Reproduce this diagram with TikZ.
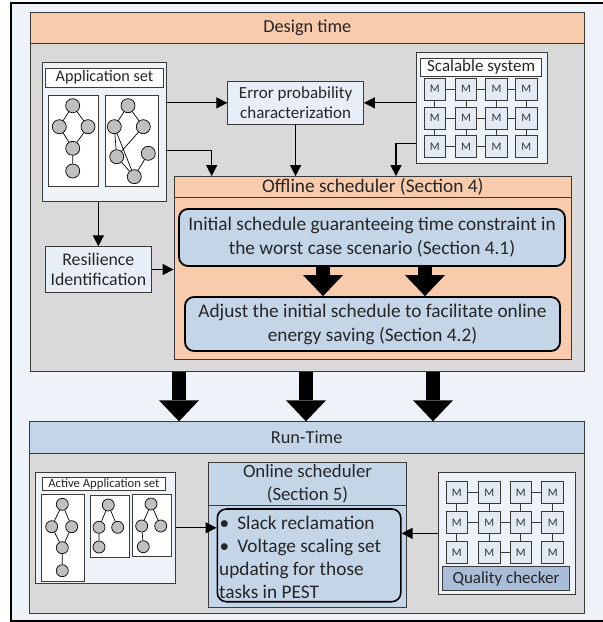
\documentclass[tikz,border=0pt]{standalone}
\usepackage{fontspec}
\setmainfont{Carlito}
\usetikzlibrary{arrows.meta,fit,calc}
\definecolor{pagebg}{HTML}{EEF3F9}
\definecolor{panelgrey}{HTML}{D9D9D9}
\definecolor{peach}{HTML}{F8CBAD}
\definecolor{steel}{HTML}{C5D5E8}
\definecolor{paleblue}{HTML}{E8EEF7}
\definecolor{cellblue}{HTML}{E4EAF4}
\definecolor{checker}{HTML}{A9BDD8}
\definecolor{vtxgrey}{HTML}{BFBFBF}
\definecolor{edgec}{HTML}{3A3A3A}
\begin{document}
\begin{tikzpicture}[x=1pt,y=-1pt,
  box/.style={draw=edgec, line width=0.8pt, inner sep=0pt},
  panel/.style={box, fill=panelgrey},
  txt/.style={inner sep=0pt, align=center, text=black!85},
  fhead/.style={font=\fontsize{18.3}{23.5}\selectfont},
  fbig/.style={font=\fontsize{19.3}{24}\selectfont},
  fmid/.style={font=\fontsize{17}{20.5}\selectfont},
  fsmall/.style={font=\fontsize{12.7}{14}\selectfont},
  task/.style={draw=black, line width=1.8pt, rounded corners=9pt, fill=steel, inner sep=0pt},
  vtx/.style={circle, draw=black, line width=0.7pt, fill=vtxgrey, inner sep=0pt, minimum size=14pt},
  svtx/.style={vtx, minimum size=12pt},
  gedge/.style={draw=black, line width=0.7pt},
  mcell/.style={box, fill=cellblue, minimum width=21.7pt, minimum height=22pt, font=\fontsize{11.5}{13}\selectfont, text=black!80},
  link/.style={draw=edgec, line width=0.8pt},
  conn/.style={draw=black, line width=1.2pt, -{Triangle[length=11pt,width=11pt]}},
  bigarrow/.style={draw=black, line width=14pt, -{Triangle[length=21pt,width=40pt,line width=0pt]}},
]
\useasboundingbox (0,0) rectangle (603,622);

% outer frame
\draw[draw=black, line width=2pt, fill=pagebg] (11,3) rectangle (606,620.5);

% ---------------- design time ----------------
\node[panel, fit={(30.7,12.7) (584,371.7)}] (design) {};
\node[box, fill=peach, fit={(30.7,12.7) (584,43.7)}] (dhead) {};
\node[txt, fhead] (dhead-t) at (dhead) {Design time};

% application set
\node[box, fill=pagebg, fit={(42.7,62.3) (166.7,201.7)}] (appset) {};
\node[box, fill=white, fit={(45.7,68.3) (163.3,87)}] (apptitle) {};
\node[txt, font=\fontsize{16.2}{19}\selectfont] (apptitle-t) at (apptitle) {Application set};
\node[box, fill=white, fit={(48.3,95.7) (98.3,186.5)}] (ga) {};
\node[box, fill=white, fit={(105.7,95.7) (158.3,186.5)}] (gb) {};
\node[vtx] (a1) at (72.7,105.7) {};
\node[vtx] (a2) at (59.3,126.7) {};
\node[vtx] (a3) at (88,126.7) {};
\node[vtx] (a4) at (72.7,148.3) {};
\node[vtx] (a5) at (72.7,171) {};
\draw[gedge] (a1)--(a2) (a1)--(a3) (a2)--(a4) (a3)--(a4) (a4)--(a5);
\node[vtx] (b1) at (128,105.7) {};
\node[vtx] (b2) at (114.3,126.7) {};
\node[vtx] (b3) at (143.3,126.7) {};
\node[vtx] (b4) at (116.7,156.7) {};
\node[vtx] (b5) at (148.3,153.3) {};
\node[vtx] (b6) at (134.3,176.7) {};
\draw[gedge] (b1)--(b2) (b1)--(b3) (b2)--(b4) (b2)--(b6) (b3)--(b4) (b4)--(b6) (b5)--(b6);

% error probability
\node[box, fill=paleblue, fit={(227.7,81.7) (363.5,124)}] (err) {};
\node[txt, fmid] (err-t) at (err) {Error probability\\characterization};

% scalable system
\node[box, fill=pagebg, fit={(416.7,52.3) (547.7,163.3)}] (scal) {};
\node[box, fill=white, fit={(420.7,58.3) (541.7,76)}] (scaltitle) {};
\node[txt, fmid] (scaltitle-t) at (scaltitle) {Scalable system};
\foreach \c/\x in {1/434.8,2/466,3/496.5,4/526.3}{
  \foreach \r/\y in {1/89.2,2/118,3/146.7}{
    \node[mcell] (d-\r-\c) at (\x,\y) {M};
  }
}
\foreach \r in {1,2}{\draw[link] (d-\r-1)--(d-\r-2) (d-\r-2)--(d-\r-3) (d-\r-3)--(d-\r-4);}
\draw[link] (d-3-1)--(d-3-2) (d-3-2)--(d-3-3);
\foreach \c in {1,...,4}{\draw[link] (d-1-\c)--(d-2-\c) (d-2-\c)--(d-3-\c);}

% resilience
\node[box, fill=paleblue, fit={(45,246.7) (151.7,292.3)}] (res) {};
\node[txt, font=\fontsize{17.8}{20.5}\selectfont] (res-t) at (res) {Resilience\\Identification};

% offline scheduler
\node[box, fill=peach, fit={(174,176.5) (571.7,359.3)}] (offline) {};
\node[box, fill=peach, fit={(174,176.5) (571.7,197.3)}] (offhead) {};
\node[txt, fbig] (offhead-t) at (offhead) {Offline scheduler (Section 4)};
\node[task, fit={(179,209) (565,266)}] (init) {};
\node[txt, fbig] (init-t) at (init) {Initial schedule guaranteeing time constraint in\\the worst case scenario (Section 4.1)};
\node[task, fit={(185,297) (560,351)}] (adjust) {};
\node[txt, fbig] (adjust-t) at (adjust) {Adjust the initial schedule to facilitate online\\energy saving (Section 4.2)};

% design-time connectors
\coordinate (k1) at (211.7,150.7);
\coordinate (k2) at (396,143.3);
\draw[conn] (appset.east |- err.west) -- (err.west);
\draw[conn] (scal.west |- err.east) -- (err.east);
\draw[conn] (appset.east |- k1) -- (k1) -- (k1 |- offline.north);
\draw[conn] (err.south) -- (err.south |- offline.north);
\draw[conn] (scal.west |- k2) -- (k2) -- (k2 |- offline.north);
\draw[conn] (appset.south -| res.north) -- (res.north);
\draw[conn] (res.east) -- (res.east -| offline.west);

\coordinate (p1) at (323,0);
\coordinate (p2) at (425,0);
\draw[bigarrow] (p1 |- init.south) -- (p1 |- adjust.north);
\draw[bigarrow] (p2 |- init.south) -- (p2 |- adjust.north);

% ---------------- run time ----------------
\node[panel, fit={(29.3,421.7) (584,613.3)}] (run) {};
\node[box, fill=steel, fit={(29.3,421.7) (584,453.3)}] (rhead) {};
\node[txt, fhead] (rhead-t) at (rhead) {Run-Time};

\coordinate (q1) at (179,0);
\coordinate (q2) at (306,0);
\coordinate (q3) at (433,0);
\foreach \q in {q1,q2,q3}{\draw[bigarrow] (\q |- design.south) -- (\q |- rhead.north);}

% active application set
\node[box, fill=pagebg, fit={(35.7,472.3) (175.7,583.3)}] (active) {};
\node[box, fill=white, fit={(42.7,477.3) (165,490)}] (acttitle) {};
\node[txt, fsmall] (acttitle-t) at (acttitle) {Active Application set};
\node[box, fill=white, fit={(41.3,494.7) (84,581.3)}] (ra) {};
\node[box, fill=white, fit={(90.3,495.3) (129.3,557.3)}] (rb) {};
\node[box, fill=white, fit={(132.7,494) (171.7,556.7)}] (rc) {};
\node[svtx] (u1) at (62.3,504.3) {};
\node[svtx] (u2) at (51.7,526.7) {};
\node[svtx] (u3) at (71.7,526.7) {};
\node[svtx] (u4) at (62.3,547.7) {};
\node[svtx] (u5) at (62.3,570.7) {};
\draw[gedge] (u1)--(u2) (u1)--(u3) (u2)--(u4) (u3)--(u4) (u4)--(u5);
\node[svtx] (v1) at (108.3,505) {};
\node[svtx] (v2) at (99,527.3) {};
\node[svtx] (v3) at (117.7,527.3) {};
\node[svtx] (v4) at (99,547) {};
\draw[gedge] (v1)--(v2) (v1)--(v3) (v2)--(v4);
\node[svtx] (w1) at (151,504) {};
\node[svtx] (w2) at (141.7,526) {};
\node[svtx] (w3) at (160.7,526) {};
\node[svtx] (w4) at (143.3,546.7) {};
\draw[gedge] (w1)--(w2) (w1)--(w3) (w2)--(w4);

% online scheduler
\node[box, fill=steel, fit={(208.5,462.7) (406.5,607.3)}] (online) {};
\node[box, fill=steel, fit={(208.5,462.7) (406.5,505)}] (onhead) {};
\node[txt, font=\fontsize{18.8}{22.7}\selectfont] (onhead-t) at (onhead) {Online scheduler\\(Section 5)};
\node[task, line width=1.6pt, fit={(217.3,509) (400.8,601.7)}] (inner) {};
\node[inner sep=0pt, anchor=west, align=left, font=\fontsize{19.3}{23}\selectfont, text=black!85] (inner-t) at (219,557)
  {\hspace{0.5pt}•\hspace{8pt}Slack reclamation\\\hspace{0.5pt}•\hspace{8pt}Voltage scaling set\\updating for those\\tasks in PEST};

% processor grid with quality checker
\node[box, fill=pagebg, fit={(438.3,472.7) (575.7,594)}] (rgrid) {};
\foreach \c/\x in {1/456.8,2/489.2,3/520.8,4/552.7}{
  \foreach \r/\y in {1/492.5,2/522.5,3/552.5}{
    \node[mcell, minimum height=21.7pt] (m-\r-\c) at (\x,\y) {M};
  }
}
\draw[link] (m-1-1)--(m-1-2) (m-1-3)--(m-1-4);
\draw[link] (m-2-1)--(m-2-2) (m-2-2)--(m-2-3) (m-2-3)--(m-2-4);
\draw[link] (m-3-2)--(m-3-3);
\foreach \c in {1,...,4}{\draw[link] (m-1-\c)--(m-2-\c) (m-2-\c)--(m-3-\c);}
\node[box, fill=checker, fit={(442.7,566.7) (569.3,590.7)}] (qc) {};
\node[txt, font=\fontsize{17}{18}\selectfont] (qc-t) at (qc) {Quality checker};

% run-time connectors
\draw[conn] (active.east) -- (active.east -| inner.west);
\draw[conn] (rgrid.west) -- (rgrid.west -| inner.east);
\end{tikzpicture}
\end{document}
